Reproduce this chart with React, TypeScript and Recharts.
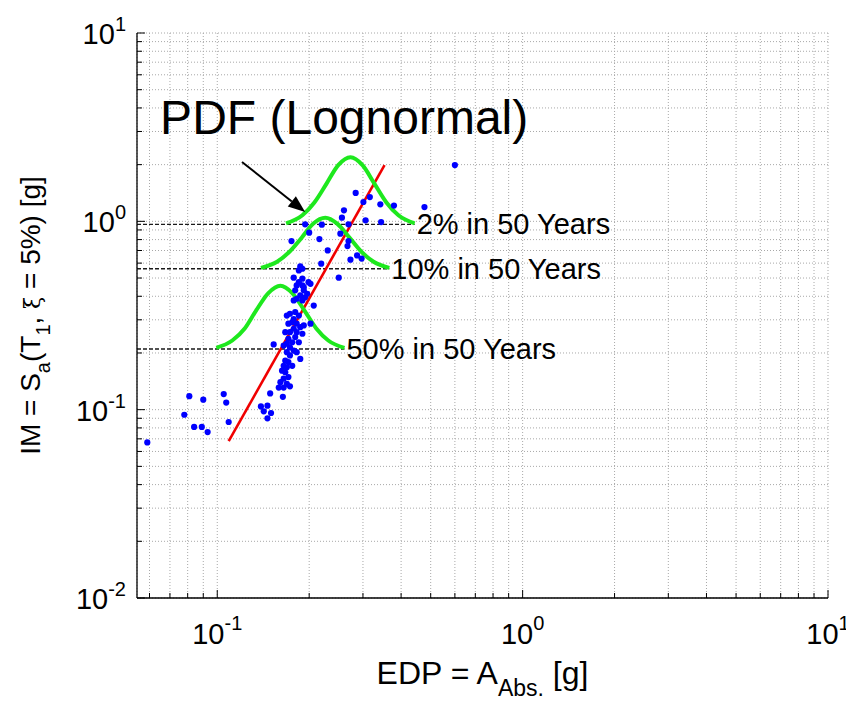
import React from 'react';
import {
  ComposedChart,
  XAxis,
  YAxis,
  CartesianGrid,
  Scatter,
  Line,
  ReferenceLine,
  ReferenceDot,
} from 'recharts';

const FONT = '"Liberation Sans", Arial, Helvetica, sans-serif';

// Scatter: EDP (absolute acceleration, g) vs IM (Sa, g)
const edpValues = [
  0.059, 0.078, 0.081, 0.084, 0.089, 0.09, 0.093, 0.105, 0.107, 0.109,
  0.139, 0.142, 0.146, 0.146, 0.15, 0.149, 0.164, 0.185, 0.19, 0.18,
  0.192, 0.187, 0.182, 0.178, 0.19, 0.194, 0.202, 0.207, 0.197, 0.173,
  0.169, 0.18, 0.178, 0.185, 0.176, 0.182, 0.171, 0.187, 0.192, 0.178,
  0.173, 0.167, 0.182, 0.19, 0.18, 0.171, 0.176, 0.185, 0.169, 0.165,
  0.173, 0.178, 0.182, 0.187, 0.169, 0.173, 0.167, 0.171, 0.165, 0.169,
  0.176, 0.163, 0.167, 0.171, 0.165, 0.161, 0.169, 0.159, 0.165, 0.173,
  0.153, 0.202, 0.284, 0.316, 0.301, 0.342, 0.379, 0.477, 0.26, 0.256,
  0.306, 0.344, 0.194, 0.22, 0.269, 0.253, 0.175, 0.216, 0.269, 0.267,
  0.23, 0.287, 0.297, 0.273, 0.219, 0.187, 0.19, 0.185, 0.25, 0.178,
  0.19, 0.199, 0.182, 0.192, 0.2, 0.6,
];
const imValues = [
  0.067, 0.094, 0.118, 0.081, 0.081, 0.113, 0.076, 0.121, 0.109, 0.086,
  0.104, 0.098, 0.105, 0.09, 0.096, 0.122, 0.117, 0.475, 0.457, 0.43,
  0.43, 0.404, 0.388, 0.38, 0.38, 0.395, 0.466, 0.357, 0.412, 0.323,
  0.316, 0.33, 0.303, 0.316, 0.291, 0.286, 0.286, 0.274, 0.28, 0.269,
  0.258, 0.258, 0.258, 0.253, 0.243, 0.238, 0.228, 0.228, 0.224, 0.219,
  0.214, 0.206, 0.202, 0.186, 0.202, 0.194, 0.182, 0.179, 0.171, 0.168,
  0.171, 0.161, 0.158, 0.149, 0.146, 0.14, 0.137, 0.131, 0.131, 0.133,
  0.222, 0.286, 1.415, 1.346, 1.267, 1.231, 1.212, 1.191, 1.144, 1.046,
  1.012, 0.991, 0.964, 0.96, 0.964, 0.86, 0.786, 0.805, 0.786, 0.739,
  0.701, 0.659, 0.634, 0.626, 0.596, 0.576, 0.56, 0.549, 0.502, 0.502,
  0.496, 0.475, 0.457, 0.447, 0.871, 1.99,
];

// Fitted regression line (red)
const fitEDP = [0.109, 0.353];
const fitIM = [0.068, 1.99];

// Lognormal PDFs (green), drawn on each hazard level
const pdf2EDP = [0.168, 0.19, 0.208, 0.228, 0.249, 0.273, 0.299, 0.327, 0.358, 0.392, 0.443];
const pdf2IM = [0.975, 1.077, 1.259, 1.586, 1.988, 2.19, 1.988, 1.586, 1.259, 1.077, 0.975];
const pdf10EDP = [0.139, 0.157, 0.172, 0.189, 0.206, 0.226, 0.247, 0.271, 0.297, 0.325, 0.366];
const pdf10IM = [0.566, 0.61, 0.687, 0.819, 0.972, 1.046, 0.972, 0.819, 0.687, 0.61, 0.566];
const pdf50EDP = [0.0993, 0.112, 0.123, 0.134, 0.147, 0.161, 0.176, 0.193, 0.211, 0.231, 0.261];
const pdf50IM = [0.213, 0.233, 0.27, 0.336, 0.416, 0.455, 0.416, 0.336, 0.27, 0.233, 0.213];

// Hazard levels (dashed lines)
const hazardLabels = ['2% in 50 Years', '10% in 50 Years', '50% in 50 Years'];
const hazardIM = [0.964, 0.56, 0.21];
const hazardLineEnd = [0.443, 0.366, 0.261];

// Annotation
const pdfTitle = 'PDF (Lognormal)';
const pdfTitlePos = { x: 0.065, y: 2.9 };
const arrowStart = { x: 0.1205, y: 2.067 };
const arrowEnd = { x: 0.194, y: 1.121 };

// Axes
const xDomain = [0.0546, 10];
const yDomain = [0.01, 10];
const xTicks = [
  0.06, 0.07, 0.08, 0.09, 0.1, 0.2, 0.3, 0.4, 0.5, 0.6, 0.7, 0.8, 0.9, 1,
  2, 3, 4, 5, 6, 7, 8, 9, 10,
];
const yTicks = [
  0.01, 0.02, 0.03, 0.04, 0.05, 0.06, 0.07, 0.08, 0.09, 0.1, 0.2, 0.3, 0.4,
  0.5, 0.6, 0.7, 0.8, 0.9, 1, 2, 3, 4, 5, 6, 7, 8, 9, 10,
];

const scatterData = edpValues.map((x, i) => ({ x, y: imValues[i] }));
const fitData = fitEDP.map((x, i) => ({ x, y: fitIM[i] }));
const pdfSeries = [
  pdf2EDP.map((x, i) => ({ x, y: pdf2IM[i] })),
  pdf10EDP.map((x, i) => ({ x, y: pdf10IM[i] })),
  pdf50EDP.map((x, i) => ({ x, y: pdf50IM[i] })),
];

const isMajor = (v: number) => {
  const l = Math.log10(v);
  return Math.abs(l - Math.round(l)) < 1e-9;
};

const YTick = (props: any) => {
  const { x, y, payload } = props;
  const v = payload.value;
  const major = isMajor(v);
  const e = Math.round(Math.log10(v));
  return (
    <g>
      <line x1={x} x2={x + (major ? 8 : 5)} y1={y} y2={y} stroke="#000" strokeWidth={1} />
      {major && (
        <text x={x - 11} y={y + 11} textAnchor="end" fontSize={29} fontFamily={FONT} fill="#000">
          10
          <tspan dy={-13} fontSize={20}>
            {e}
          </tspan>
        </text>
      )}
    </g>
  );
};

const XTick = (props: any) => {
  const { x, y, payload } = props;
  const v = payload.value;
  const major = isMajor(v);
  const e = Math.round(Math.log10(v));
  return (
    <g>
      <line x1={x} x2={x} y1={y} y2={y - (major ? 8 : 5)} stroke="#000" strokeWidth={1} />
      {major && (
        <text x={x} y={y + 46} textAnchor="middle" fontSize={29} fontFamily={FONT} fill="#000">
          10
          <tspan dy={-14} fontSize={20}>
            {e}
          </tspan>
        </text>
      )}
    </g>
  );
};

const XLabel = (props: any) => {
  const vb = props.viewBox || { x: 137, y: 598, width: 691, height: 104 };
  const cx = vb.x + vb.width / 2;
  const by = vb.y + 86;
  return (
    <text x={cx} y={by} textAnchor="middle" fontSize={32} fontFamily={FONT} fill="#000">
      EDP = A
      <tspan dy={12} fontSize={23}>
        Abs.
      </tspan>
      <tspan dy={-12}> [g]</tspan>
    </text>
  );
};

const YLabel = (props: any) => {
  const vb = props.viewBox || { x: 0, y: 33, width: 137, height: 565 };
  const cx = 40;
  const cy = vb.y + vb.height / 2;
  return (
    <text
      x={cx}
      y={cy}
      transform={`rotate(-90, ${cx}, ${cy})`}
      textAnchor="middle"
      fontSize={28}
      fontFamily={FONT}
      fill="#000"
    >
      IM = S
      <tspan dy={10} fontSize={20}>
        a
      </tspan>
      <tspan dy={-10}>(T</tspan>
      <tspan dy={10} fontSize={20}>
        1
      </tspan>
      <tspan dy={-10}>, </tspan>
      <tspan fontFamily='"DejaVu Serif", serif' fontSize={22}>
        ξ
      </tspan>
      <tspan> = 5%) [g]</tspan>
    </text>
  );
};

const hazardShape = (label: string) => (p: any) => {
  const { x1, y1, x2, y2 } = p;
  return (
    <g>
      <line x1={x1} y1={y1} x2={x2} y2={y2} stroke="#1a1a1a" strokeWidth={1.4} strokeDasharray="4 2" />
      <text x={x2 + 2} y={y2 + 10} fontSize={29} fontFamily={FONT} fill="#000">
        {label}
      </text>
    </g>
  );
};

const ArrowShape = (p: any) => {
  const { x1, y1, x2, y2 } = p;
  const ang = Math.atan2(y2 - y1, x2 - x1);
  const L = 17;
  const W = 6.5;
  const bx = x2 - L * Math.cos(ang);
  const by = y2 - L * Math.sin(ang);
  const nx = -Math.sin(ang);
  const ny = Math.cos(ang);
  return (
    <g>
      <line x1={x1} y1={y1} x2={bx} y2={by} stroke="#000" strokeWidth={2} />
      <polygon
        points={`${x2},${y2} ${bx + nx * W},${by + ny * W} ${bx - nx * W},${by - ny * W}`}
        fill="#000"
      />
    </g>
  );
};

const TitleShape = (p: any) => (
  <text x={p.cx} y={p.cy} fontSize={48} fontFamily={FONT} fill="#000">
    {pdfTitle}
  </text>
);

const Dot = (p: any) => <circle cx={p.cx} cy={p.cy} r={3.1} fill="#0000ff" />;

export default function App() {
  return (
    <div style={{ position: 'absolute', left: 0, top: 0, width: 846, height: 702, background: '#fff' }}>
      <ComposedChart width={846} height={702} margin={{ top: 33, right: 18, bottom: 0, left: 0 }}>
        <CartesianGrid stroke="#a8a8a8" strokeDasharray="1 2" />
        <XAxis
          dataKey="x"
          type="number"
          scale="log"
          domain={xDomain}
          ticks={xTicks}
          interval={0}
          allowDataOverflow
          height={104}
          tickLine={false}
          tickSize={0}
          tickMargin={0}
          tick={<XTick />}
          axisLine={{ stroke: '#000', strokeWidth: 1.3 }}
          label={<XLabel />}
        />
        <YAxis
          dataKey="y"
          type="number"
          scale="log"
          domain={yDomain}
          ticks={yTicks}
          interval={0}
          allowDataOverflow
          width={137}
          tickLine={false}
          tickSize={0}
          tickMargin={0}
          tick={<YTick />}
          axisLine={{ stroke: '#000', strokeWidth: 1.3 }}
          label={<YLabel />}
        />
        {hazardLabels.map((lab, i) => (
          <ReferenceLine
            key={lab}
            segment={[
              { x: xDomain[0], y: hazardIM[i] },
              { x: hazardLineEnd[i], y: hazardIM[i] },
            ]}
            ifOverflow="visible"
            shape={hazardShape(lab)}
          />
        ))}
        <Scatter data={scatterData} dataKey="y" shape={<Dot />} isAnimationActive={false} />
        <Line
          data={fitData}
          dataKey="y"
          type="linear"
          stroke="#f00000"
          strokeWidth={2.6}
          dot={false}
          activeDot={false}
          isAnimationActive={false}
        />
        {pdfSeries.map((d, i) => (
          <Line
            key={i}
            data={d}
            dataKey="y"
            type="monotone"
            stroke="#1ee81e"
            strokeWidth={4}
            dot={false}
            activeDot={false}
            isAnimationActive={false}
          />
        ))}
        <ReferenceLine
          segment={[arrowStart, arrowEnd]}
          ifOverflow="visible"
          shape={ArrowShape}
        />
        <ReferenceDot x={pdfTitlePos.x} y={pdfTitlePos.y} r={0} ifOverflow="visible" shape={TitleShape} />
      </ComposedChart>
    </div>
  );
}
